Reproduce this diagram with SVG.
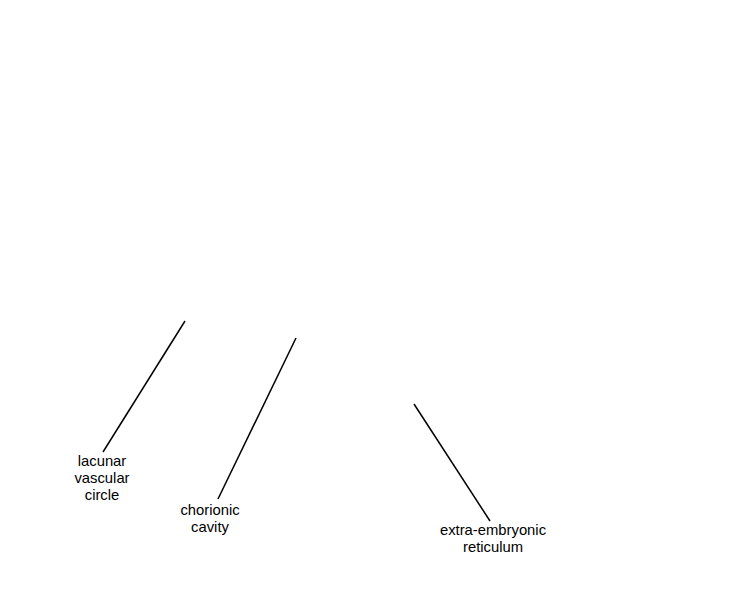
<svg xmlns="http://www.w3.org/2000/svg" width="750" height="600" viewBox="0 0 750 600">
<style>
.t{font-family:"Liberation Sans",Arial,sans-serif;font-size:14.8px;fill:#000;text-anchor:middle}
.c line{stroke:#000;stroke-width:1.5}
</style>
<rect width="750" height="600" fill="#fff"/>
<g id="connectors" class="c">
<line x1="185" y1="321" x2="103" y2="452"/>
<line x1="296" y1="338" x2="218" y2="499"/>
<line x1="414" y1="404" x2="490" y2="521"/>
</g>
<g id="lacunar-vascular-circle">
<text class="t" x="102" y="466">lacunar</text>
<text class="t" x="102" y="483">vascular</text>
<text class="t" x="102" y="500">circle</text>
</g>
<g id="chorionic-cavity">
<text class="t" x="210" y="515">chorionic</text>
<text class="t" x="210" y="532">cavity</text>
</g>
<g id="extra-embryonic-reticulum">
<text class="t" x="493" y="535">extra-embryonic</text>
<text class="t" x="493" y="552">reticulum</text>
</g>
</svg>
